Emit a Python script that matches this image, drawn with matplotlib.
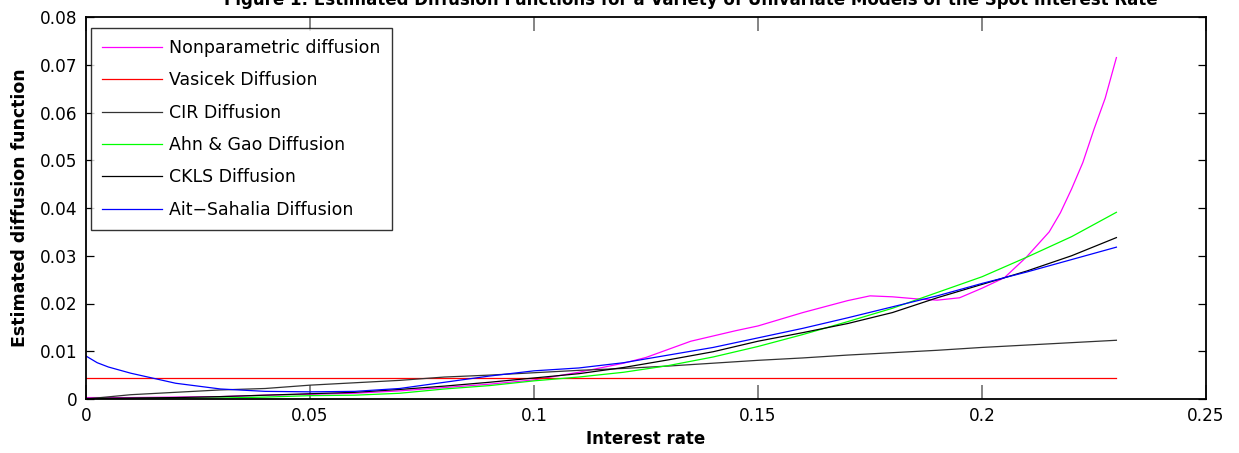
import matplotlib
matplotlib.use("Agg")
import matplotlib.pyplot as plt

plt.rcParams['font.family'] = ['DejaVu Sans']

# ---- data ----
rate = [0.00, 0.01, 0.02, 0.03, 0.04, 0.05, 0.06, 0.07, 0.08, 0.09, 0.10, 0.11,
        0.12, 0.13, 0.14, 0.15, 0.16, 0.17, 0.18, 0.19, 0.20, 0.21, 0.22, 0.23]

nonpar_rate = [0.00, 0.01, 0.02, 0.03, 0.04, 0.05, 0.06, 0.07, 0.08, 0.09, 0.10, 0.11,
               0.12, 0.125, 0.13, 0.135, 0.14, 0.145, 0.15, 0.16, 0.17, 0.175, 0.18,
               0.185, 0.19, 0.195, 0.20, 0.205, 0.21, 0.215, 0.2175, 0.22, 0.2225,
               0.225, 0.2275, 0.23]
nonpar = [0.0003, 0.0003, 0.0004, 0.0005, 0.0008, 0.0010, 0.0012, 0.0017, 0.0024, 0.0031,
          0.0040, 0.0056, 0.0075, 0.0087, 0.0104, 0.0121, 0.0132, 0.0143, 0.0153, 0.0181,
          0.0206, 0.0216, 0.0214, 0.0210, 0.0207, 0.0212, 0.0232, 0.0254, 0.0298, 0.0350,
          0.0390, 0.0440, 0.0495, 0.0565, 0.0630, 0.0715]

vasicek = [0.0044] * len(rate)

cir = [0.0000, 0.0009, 0.0014, 0.0019, 0.0022, 0.0029, 0.0034, 0.0039, 0.0046, 0.0050,
       0.0055, 0.0060, 0.0064, 0.0069, 0.0075, 0.0081, 0.0086, 0.0092, 0.0097, 0.0102,
       0.0108, 0.0113, 0.0118, 0.0123]

ahn_gao = [0.0001, 0.0001, 0.0002, 0.0002, 0.0004, 0.0007, 0.0008, 0.0012, 0.0021, 0.0028,
           0.0038, 0.0046, 0.0056, 0.0070, 0.0088, 0.0110, 0.0135, 0.0162, 0.0190, 0.0223,
           0.0256, 0.0297, 0.0340, 0.0391]

ckls = [0.0001, 0.0002, 0.0003, 0.0005, 0.0008, 0.0011, 0.0014, 0.0020, 0.0027, 0.0035,
        0.0044, 0.0053, 0.0066, 0.0082, 0.0099, 0.0121, 0.0139, 0.0158, 0.0181, 0.0212,
        0.0240, 0.0268, 0.0300, 0.0338]

ait_rate = [0.00, 0.0025, 0.005, 0.01, 0.02, 0.03, 0.04, 0.05, 0.06, 0.07, 0.08, 0.09,
            0.10, 0.11, 0.12, 0.13, 0.14, 0.15, 0.16, 0.17, 0.18, 0.19, 0.20, 0.21,
            0.22, 0.23]
ait = [0.0090, 0.0076, 0.0067, 0.0054, 0.0033, 0.0021, 0.0016, 0.0015, 0.0016, 0.0022,
       0.0035, 0.0048, 0.0059, 0.0065, 0.0076, 0.0092, 0.0108, 0.0128, 0.0148, 0.0170,
       0.0193, 0.0216, 0.0242, 0.0266, 0.0292, 0.0318]

labels = ['Nonparametric diffusion', 'Vasicek Diffusion', 'CIR Diffusion',
          'Ahn & Gao Diffusion', 'CKLS Diffusion', 'Ait\u2212Sahalia Diffusion']

xticks = [0, 0.05, 0.1, 0.15, 0.2, 0.25]
xticklabels = ['0', '0.05', '0.1', '0.15', '0.2', '0.25']
yticks = [0, 0.01, 0.02, 0.03, 0.04, 0.05, 0.06, 0.07, 0.08]
yticklabels = ['0', '0.01', '0.02', '0.03', '0.04', '0.05', '0.06', '0.07', '0.08']

title = 'Figure 1: Estimated Diffusion Functions for a Variety of Univariate Models of the Spot Interest Rate'

# ---- figure ----
W, H = 1239, 453
fig = plt.figure(figsize=(W / 100, H / 100), dpi=100)
ax = fig.add_axes([86 / W, 1 - 399 / H, (1206 - 86) / W, (399 - 17) / H])

lw = 0.9
ax.plot(nonpar_rate, nonpar, color='#ff00ff', lw=lw, label=labels[0])
ax.plot(rate, vasicek, color='#ff0000', lw=lw, label=labels[1])
ax.plot(rate, cir, color='#333333', lw=lw, label=labels[2])
ax.plot(rate, ahn_gao, color='#00ff00', lw=lw, label=labels[3])
ax.plot(rate, ckls, color='#000000', lw=lw, label=labels[4])
ax.plot(ait_rate, ait, color='#0000ff', lw=lw, label=labels[5])

ax.set_xlim(0, 0.25)
ax.set_ylim(0, 0.08)
ax.set_xticks(xticks)
ax.set_xticklabels(xticklabels)
ax.set_yticks(yticks)
ax.set_yticklabels(yticklabels)
ax.tick_params(axis='x', direction='in', top=True, bottom=True, labelsize=12.2,
               length=10, width=1.2, color='#707070', pad=6)
ax.tick_params(axis='y', direction='in', left=True, right=True, labelsize=12.2,
               length=6, width=0.9, color='black', pad=6)
for s in ax.spines.values():
    s.set_linewidth(1.3)

ax.set_xlabel('Interest rate', fontsize=12, fontweight='bold', labelpad=3)
ax.set_ylabel('Estimated diffusion function', fontsize=12.5, fontweight='bold', labelpad=8)

fig.text(691 / W, 1 - 5 / H, title, ha='center', va='baseline',
         fontsize=12, fontweight='bold')

leg = ax.legend(loc='upper left', bbox_to_anchor=(5 / 1120, (399 - 28) / 382),
                fontsize=12.5, frameon=True, fancybox=False, borderaxespad=0,
                handlelength=3.45, handletextpad=0.45, labelspacing=0.83,
                borderpad=0.62)
leg.get_frame().set_edgecolor('black')
leg.get_frame().set_linewidth(1.0)

fig.savefig('out.png', dpi=100)
